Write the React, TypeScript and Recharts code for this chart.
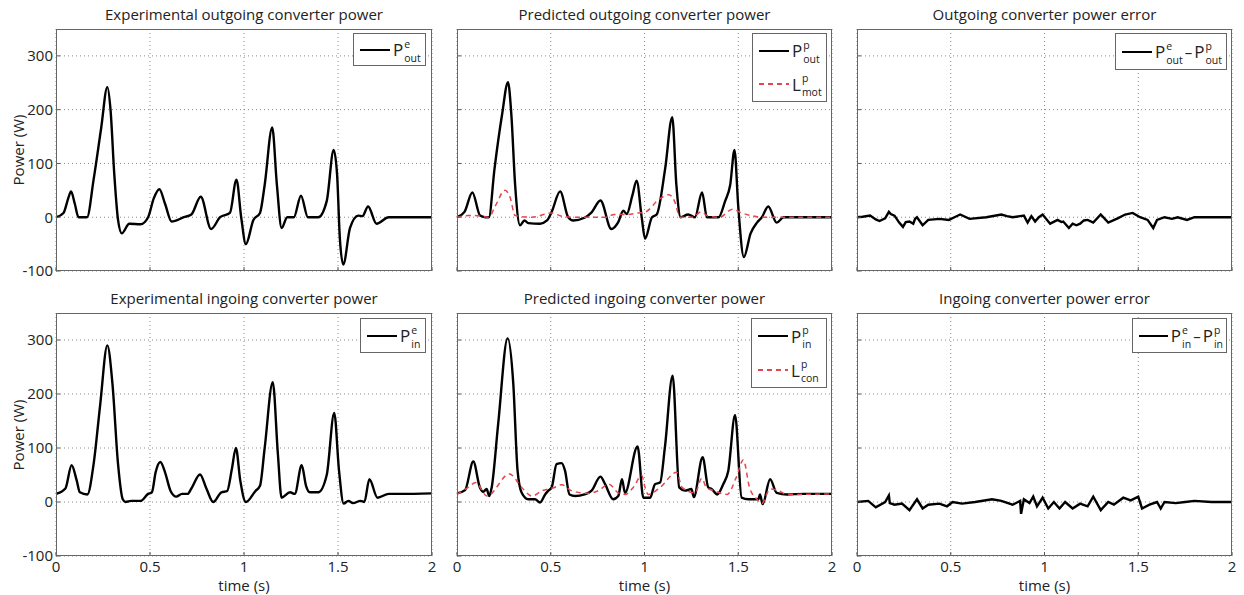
import { LineChart, Line, XAxis, YAxis, CartesianGrid } from 'recharts';

const xTicks = [0, 0.5, 1, 1.5, 2];
const yTicks = [-100, 0, 100, 200, 300];

// experimental outgoing converter power
const tOutExp = [0, 0.04, 0.065, 0.08, 0.1, 0.12, 0.165, 0.2, 0.24, 0.273, 0.29, 0.31, 0.33, 0.35, 0.39, 0.45, 0.49, 0.52, 0.55, 0.58, 0.615, 0.68, 0.72, 0.77, 0.825, 0.873, 0.925, 0.96, 0.985, 1.01, 1.05, 1.085, 1.11, 1.15, 1.175, 1.2, 1.23, 1.265, 1.303, 1.34, 1.395, 1.44, 1.477, 1.495, 1.51, 1.528, 1.564, 1.608, 1.63, 1.66, 1.705, 1.77, 2];
const pOutExp = [0, 8, 35, 48, 25, 0, 0, 70, 165, 242, 200, 80, -5, -30, -12, -13, 0, 35, 52, 25, -8, 0, 5, 38, -22, 0, 8, 70, 0, -50, -5, 8, 60, 167, 60, -20, 0, 0, 40, 0, 0, 30, 125, 80, -40, -88, -20, 3, 2, 20, -12, 0, 0];

// predicted outgoing converter power
const tOutPred = [0, 0.04, 0.082, 0.123, 0.15, 0.17, 0.2, 0.24, 0.272, 0.29, 0.31, 0.336, 0.36, 0.38, 0.443, 0.48, 0.505, 0.55, 0.593, 0.62, 0.68, 0.718, 0.765, 0.823, 0.86, 0.887, 0.905, 0.935, 0.958, 0.985, 1.003, 1.04, 1.065, 1.11, 1.148, 1.17, 1.193, 1.233, 1.269, 1.307, 1.333, 1.395, 1.43, 1.457, 1.48, 1.5, 1.53, 1.566, 1.6, 1.626, 1.66, 1.705, 1.742, 2];
const pOutPred = [0, 10, 46, 3, 0, 0, 90, 190, 251, 190, 60, -15, -6, -11, -12, -6, 10, 48, 0, -6, -1, 9, 31, -22, -9, 12, 6, 40, 68, 0, -40, 0, 5, 90, 186, 60, 0, 5, 0, 46, 0, 0, 30, 60, 125, 20, -74, -30, -10, 0, 20, -10, 0, 0];
const tLmot = [0, 0.06, 0.096, 0.17, 0.203, 0.256, 0.283, 0.31, 0.4, 0.505, 0.558, 0.62, 0.7, 0.79, 0.84, 0.914, 0.967, 1.0, 1.08, 1.13, 1.16, 1.19, 1.26, 1.3, 1.34, 1.4, 1.47, 1.51, 1.57, 1.62, 2];
const lMot = [0, 3, 3, 0, 20, 50, 37, 3, 0, 8, 2, 0, 0, 0, 5, 5, 8, 9, 34, 42, 30, 0, 0, 10, 2, 0, 15, 9, 3, 0, 0];

// outgoing converter power error
const tOutErr = [0, 0.03, 0.07, 0.1, 0.12, 0.15, 0.17, 0.18, 0.2, 0.225, 0.245, 0.26, 0.28, 0.3, 0.31, 0.32, 0.35, 0.38, 0.41, 0.44, 0.49, 0.52, 0.55, 0.6, 0.69, 0.77, 0.8, 0.83, 0.87, 0.89, 0.91, 0.93, 0.95, 0.97, 0.99, 1.03, 1.07, 1.09, 1.1, 1.13, 1.15, 1.17, 1.19, 1.21, 1.23, 1.26, 1.3, 1.34, 1.39, 1.43, 1.47, 1.51, 1.55, 1.58, 1.6, 1.64, 1.68, 1.71, 1.76, 1.8, 2];
const eOut = [0, 1, 3, -4, -7, -2, 10, 6, 3, -10, -18, -9, -8, -12, -3, 0, -15, -5, -4, -3, -5, 0, 5, -3, 0, 5, 2, 0, 2, 3, -10, 2, -8, 0, 5, -12, -5, -9, -8, -20, -12, -15, -12, -6, -5, -10, 5, -10, -2, 5, 8, 0, -5, -20, -5, 0, -3, 0, -5, 0, 0];

// experimental ingoing converter power
const tInExp = [0, 0.05, 0.083, 0.11, 0.127, 0.167, 0.2, 0.235, 0.273, 0.3, 0.33, 0.355, 0.37, 0.4, 0.45, 0.49, 0.51, 0.53, 0.555, 0.58, 0.61, 0.64, 0.67, 0.7, 0.72, 0.766, 0.8, 0.836, 0.88, 0.91, 0.935, 0.957, 0.98, 1.01, 1.06, 1.085, 1.11, 1.153, 1.18, 1.2, 1.245, 1.27, 1.307, 1.33, 1.35, 1.395, 1.44, 1.48, 1.505, 1.53, 1.555, 1.58, 1.62, 1.64, 1.667, 1.71, 1.77, 1.83, 2];
const pInExp = [15, 25, 68, 40, 18, 14, 70, 180, 290, 220, 70, 5, 0, 2, 2, 15, 18, 55, 74, 55, 20, 10, 15, 15, 25, 51, 25, 0, 18, 20, 60, 100, 40, 0, 20, 30, 100, 222, 90, 8, 18, 15, 68, 30, 18, 18, 50, 165, 60, -3, 2, -2, 2, 0, 42, 8, 15, 15, 16];

// predicted ingoing converter power
const tInPred = [0, 0.043, 0.087, 0.122, 0.14, 0.158, 0.172, 0.185, 0.22, 0.27, 0.3, 0.323, 0.345, 0.38, 0.416, 0.443, 0.47, 0.487, 0.505, 0.531, 0.558, 0.576, 0.6, 0.63, 0.68, 0.718, 0.765, 0.79, 0.833, 0.86, 0.88, 0.896, 0.963, 0.994, 1.03, 1.056, 1.083, 1.109, 1.15, 1.185, 1.216, 1.25, 1.263, 1.31, 1.34, 1.358, 1.388, 1.42, 1.447, 1.483, 1.518, 1.554, 1.607, 1.616, 1.63, 1.67, 1.705, 1.76, 1.85, 2];
const pInPred = [16, 22, 75, 27, 19, 24, 11, 27, 146, 303, 220, 58, 17, 5, 5, -1, 14, 21, 27, 70, 72, 58, 14, 11, 14, 21, 47, 33, 5, 11, 42, 17, 103, 8, 8, 33, 36, 102, 234, 27, 21, 24, 9, 83, 27, 24, 14, 33, 58, 161, 8, 5, 5, 14, -4, 42, 17, 14, 15, 15];
const tLcon = [0, 0.06, 0.1, 0.16, 0.28, 0.345, 0.4, 0.455, 0.52, 0.558, 0.61, 0.7, 0.754, 0.81, 0.86, 0.896, 0.94, 0.985, 1.003, 1.02, 1.083, 1.172, 1.2, 1.27, 1.305, 1.33, 1.37, 1.44, 1.49, 1.527, 1.56, 1.6, 1.625, 1.67, 1.714, 1.76, 2];
const lCon = [14, 27, 36, 11, 52, 27, 11, 21, 27, 32, 21, 16, 21, 33, 17, 14, 27, 49, 27, 14, 27, 55, 27, 17, 44, 27, 21, 14, 46, 78, 27, 5, -3, 24, 21, 14, 15];

// ingoing converter power error
const tInErr = [0, 0.06, 0.1, 0.15, 0.17, 0.175, 0.2, 0.24, 0.28, 0.32, 0.35, 0.38, 0.44, 0.48, 0.51, 0.56, 0.63, 0.72, 0.77, 0.83, 0.87, 0.875, 0.89, 0.92, 0.94, 0.96, 0.99, 1.02, 1.05, 1.08, 1.11, 1.15, 1.19, 1.23, 1.26, 1.3, 1.34, 1.37, 1.42, 1.46, 1.5, 1.52, 1.56, 1.6, 1.62, 1.64, 1.7, 1.75, 1.8, 1.89, 2];
const eIn = [0, 2, -10, 0, 12, -2, -5, -3, -15, 5, -12, -5, -3, -8, 0, -3, 0, 5, 2, -5, 2, -22, 5, -2, 10, -8, 8, -12, 0, -12, 0, -12, -3, -8, 10, -15, 0, -5, 8, 3, 10, -12, -5, 0, -12, 0, -2, 0, 2, 0, 0];

const FONT = "'Open Sans', sans-serif";
const BLACK = '#000';
const RED = '#e3474d';

const rows = (t: number[], v: number[]) => t.map((x, i) => ({ t: x, v: v[i] }));

type Sym = { base: string; sup: string; sub: string };
type Series = { t: number[]; v: number[]; color: string; dash?: string; curve: 'monotone' | 'linear'; width: number };
type LegendRow = { color: string; dash?: string; terms: (Sym | string)[] };

function Symbol({ s }: { s: Sym }) {
  return (
    <span style={{ display: 'inline-flex', alignItems: 'center' }}>
      <span style={{ fontSize: 17, lineHeight: '17px' }}>{s.base}</span>
      <span style={{ display: 'inline-flex', flexDirection: 'column', fontSize: 10.5, lineHeight: '14px', marginLeft: 1, marginTop: 2 }}>
        <span>{s.sup}</span>
        <span>{s.sub}</span>
      </span>
    </span>
  );
}

function LegendBox({ box, items }: { box: number[]; items: LegendRow[] }) {
  const [left, top, width, height] = box;
  return (
    <div
      style={{
        position: 'absolute', left, top, width, height, boxSizing: 'border-box',
        border: '1px solid #666', background: '#fff', display: 'flex', flexDirection: 'column',
        justifyContent: 'space-around', padding: '0 3px 0 6px', fontFamily: FONT, color: '#222',
      }}
    >
      {items.map((it, i) => (
        <div key={i} style={{ display: 'flex', alignItems: 'center' }}>
          <svg width={30} height={10} style={{ marginRight: 3 }}>
            <line x1={0} y1={5} x2={30} y2={5} stroke={it.color} strokeWidth={2} strokeDasharray={it.dash} />
          </svg>
          {it.terms.map((tm, j) =>
            typeof tm === 'string' ? (
              <span key={j} style={{ fontSize: 15, margin: '0 2px' }}>{tm}</span>
            ) : (
              <Symbol key={j} s={tm} />
            )
          )}
        </div>
      ))}
    </div>
  );
}

type PanelProps = {
  x: number; y: number; w: number; h: number; title: string;
  series: Series[]; yLabels: boolean; xLabels: boolean;
  legendBox: number[]; legend: LegendRow[];
};

const blank = () => '';

function Panel({ x, y, w, h, title, series, yLabels, xLabels, legendBox, legend }: PanelProps) {
  const YW = 44;
  const XH = 34;
  const tickStyle = { fontSize: 15, fill: '#222', fontFamily: FONT };
  return (
    <>
      <div style={{ position: 'absolute', left: x, top: y - 25, width: w, textAlign: 'center', fontFamily: FONT, fontSize: 15, color: '#222' }}>
        {title}
      </div>
      {yLabels && (
        <div
          style={{
            position: 'absolute', left: 18, top: y + h / 2, fontFamily: FONT, fontSize: 15, color: '#222',
            transform: 'translate(-50%, -50%) rotate(-90deg)', whiteSpace: 'nowrap',
          }}
        >
          Power (W)
        </div>
      )}
      {xLabels && (
        <div style={{ position: 'absolute', left: x, top: y + h + 22, width: w, textAlign: 'center', fontFamily: FONT, fontSize: 15, lineHeight: '15px', color: '#222' }}>
          time (s)
        </div>
      )}
      <div style={{ position: 'absolute', left: x - YW, top: y }}>
        <LineChart width={w + YW + 4} height={h + XH} margin={{ top: 0, right: 4, bottom: 0, left: 0 }}>
          <CartesianGrid stroke="#8a8a8a" strokeDasharray="1 3" />
          <XAxis
            type="number" dataKey="t" domain={[0, 2]} ticks={xTicks} height={XH}
            axisLine={false} tickLine={{ stroke: '#555' }} tickSize={-4} tickMargin={9}
            tick={tickStyle} tickFormatter={xLabels ? undefined : blank}
          />
          <YAxis
            type="number" domain={[-100, 350]} ticks={yTicks} width={YW}
            axisLine={false} tickLine={{ stroke: '#555' }} tickSize={-4} tickMargin={7}
            tick={tickStyle} tickFormatter={yLabels ? undefined : blank}
          />
          {series.map((s, i) => (
            <Line
              key={i} data={rows(s.t, s.v)} dataKey="v" type={s.curve} stroke={s.color}
              strokeWidth={s.width} strokeDasharray={s.dash} dot={false} isAnimationActive={false}
            />
          ))}
        </LineChart>
      </div>
      <div style={{ position: 'absolute', left: x, top: y, width: w, height: h, boxSizing: 'border-box', border: '1px solid #666', pointerEvents: 'none' }} />
      <LegendBox box={legendBox} items={legend} />
    </>
  );
}

export default function App() {
  const colX = [56, 457, 857];
  const colW = [376, 375, 375];
  const top1 = 29;
  const top2 = 313;
  return (
    <div style={{ position: 'absolute', left: 0, top: 0, width: 1244, height: 595, background: '#fff', overflow: 'hidden' }}>
      <Panel
        x={colX[0]} y={top1} w={colW[0]} h={242} title="Experimental outgoing converter power"
        series={[{ t: tOutExp, v: pOutExp, color: BLACK, curve: 'monotone', width: 2.4 }]}
        yLabels xLabels={false} legendBox={[353, 33, 73, 33]}
        legend={[{ color: BLACK, terms: [{ base: 'P', sup: 'e', sub: 'out' }] }]}
      />
      <Panel
        x={colX[1]} y={top1} w={colW[1]} h={242} title="Predicted outgoing converter power"
        series={[
          { t: tOutPred, v: pOutPred, color: BLACK, curve: 'monotone', width: 2.4 },
          { t: tLmot, v: lMot, color: RED, dash: '5 4', curve: 'monotone', width: 1.5 },
        ]}
        yLabels={false} xLabels={false} legendBox={[752, 33, 75, 69]}
        legend={[
          { color: BLACK, terms: [{ base: 'P', sup: 'p', sub: 'out' }] },
          { color: RED, dash: '5 4', terms: [{ base: 'L', sup: 'p', sub: 'mot' }] },
        ]}
      />
      <Panel
        x={colX[2]} y={top1} w={colW[2]} h={242} title="Outgoing converter power error"
        series={[{ t: tOutErr, v: eOut, color: BLACK, curve: 'linear', width: 2.4 }]}
        yLabels={false} xLabels={false} legendBox={[1115, 33, 112, 37]}
        legend={[{ color: BLACK, terms: [{ base: 'P', sup: 'e', sub: 'out' }, '–', { base: 'P', sup: 'p', sub: 'out' }] }]}
      />
      <Panel
        x={colX[0]} y={top2} w={colW[0]} h={243} title="Experimental ingoing converter power"
        series={[{ t: tInExp, v: pInExp, color: BLACK, curve: 'monotone', width: 2.4 }]}
        yLabels xLabels legendBox={[360, 318, 66, 35]}
        legend={[{ color: BLACK, terms: [{ base: 'P', sup: 'e', sub: 'in' }] }]}
      />
      <Panel
        x={colX[1]} y={top2} w={colW[1]} h={243} title="Predicted ingoing converter power"
        series={[
          { t: tInPred, v: pInPred, color: BLACK, curve: 'monotone', width: 2.4 },
          { t: tLcon, v: lCon, color: RED, dash: '5 4', curve: 'monotone', width: 1.5 },
        ]}
        yLabels={false} xLabels legendBox={[751, 318, 76, 70]}
        legend={[
          { color: BLACK, terms: [{ base: 'P', sup: 'p', sub: 'in' }] },
          { color: RED, dash: '5 4', terms: [{ base: 'L', sup: 'p', sub: 'con' }] },
        ]}
      />
      <Panel
        x={colX[2]} y={top2} w={colW[2]} h={243} title="Ingoing converter power error"
        series={[{ t: tInErr, v: eIn, color: BLACK, curve: 'linear', width: 2.4 }]}
        yLabels={false} xLabels legendBox={[1132, 318, 95, 35]}
        legend={[{ color: BLACK, terms: [{ base: 'P', sup: 'e', sub: 'in' }, '–', { base: 'P', sup: 'p', sub: 'in' }] }]}
      />
    </div>
  );
}
